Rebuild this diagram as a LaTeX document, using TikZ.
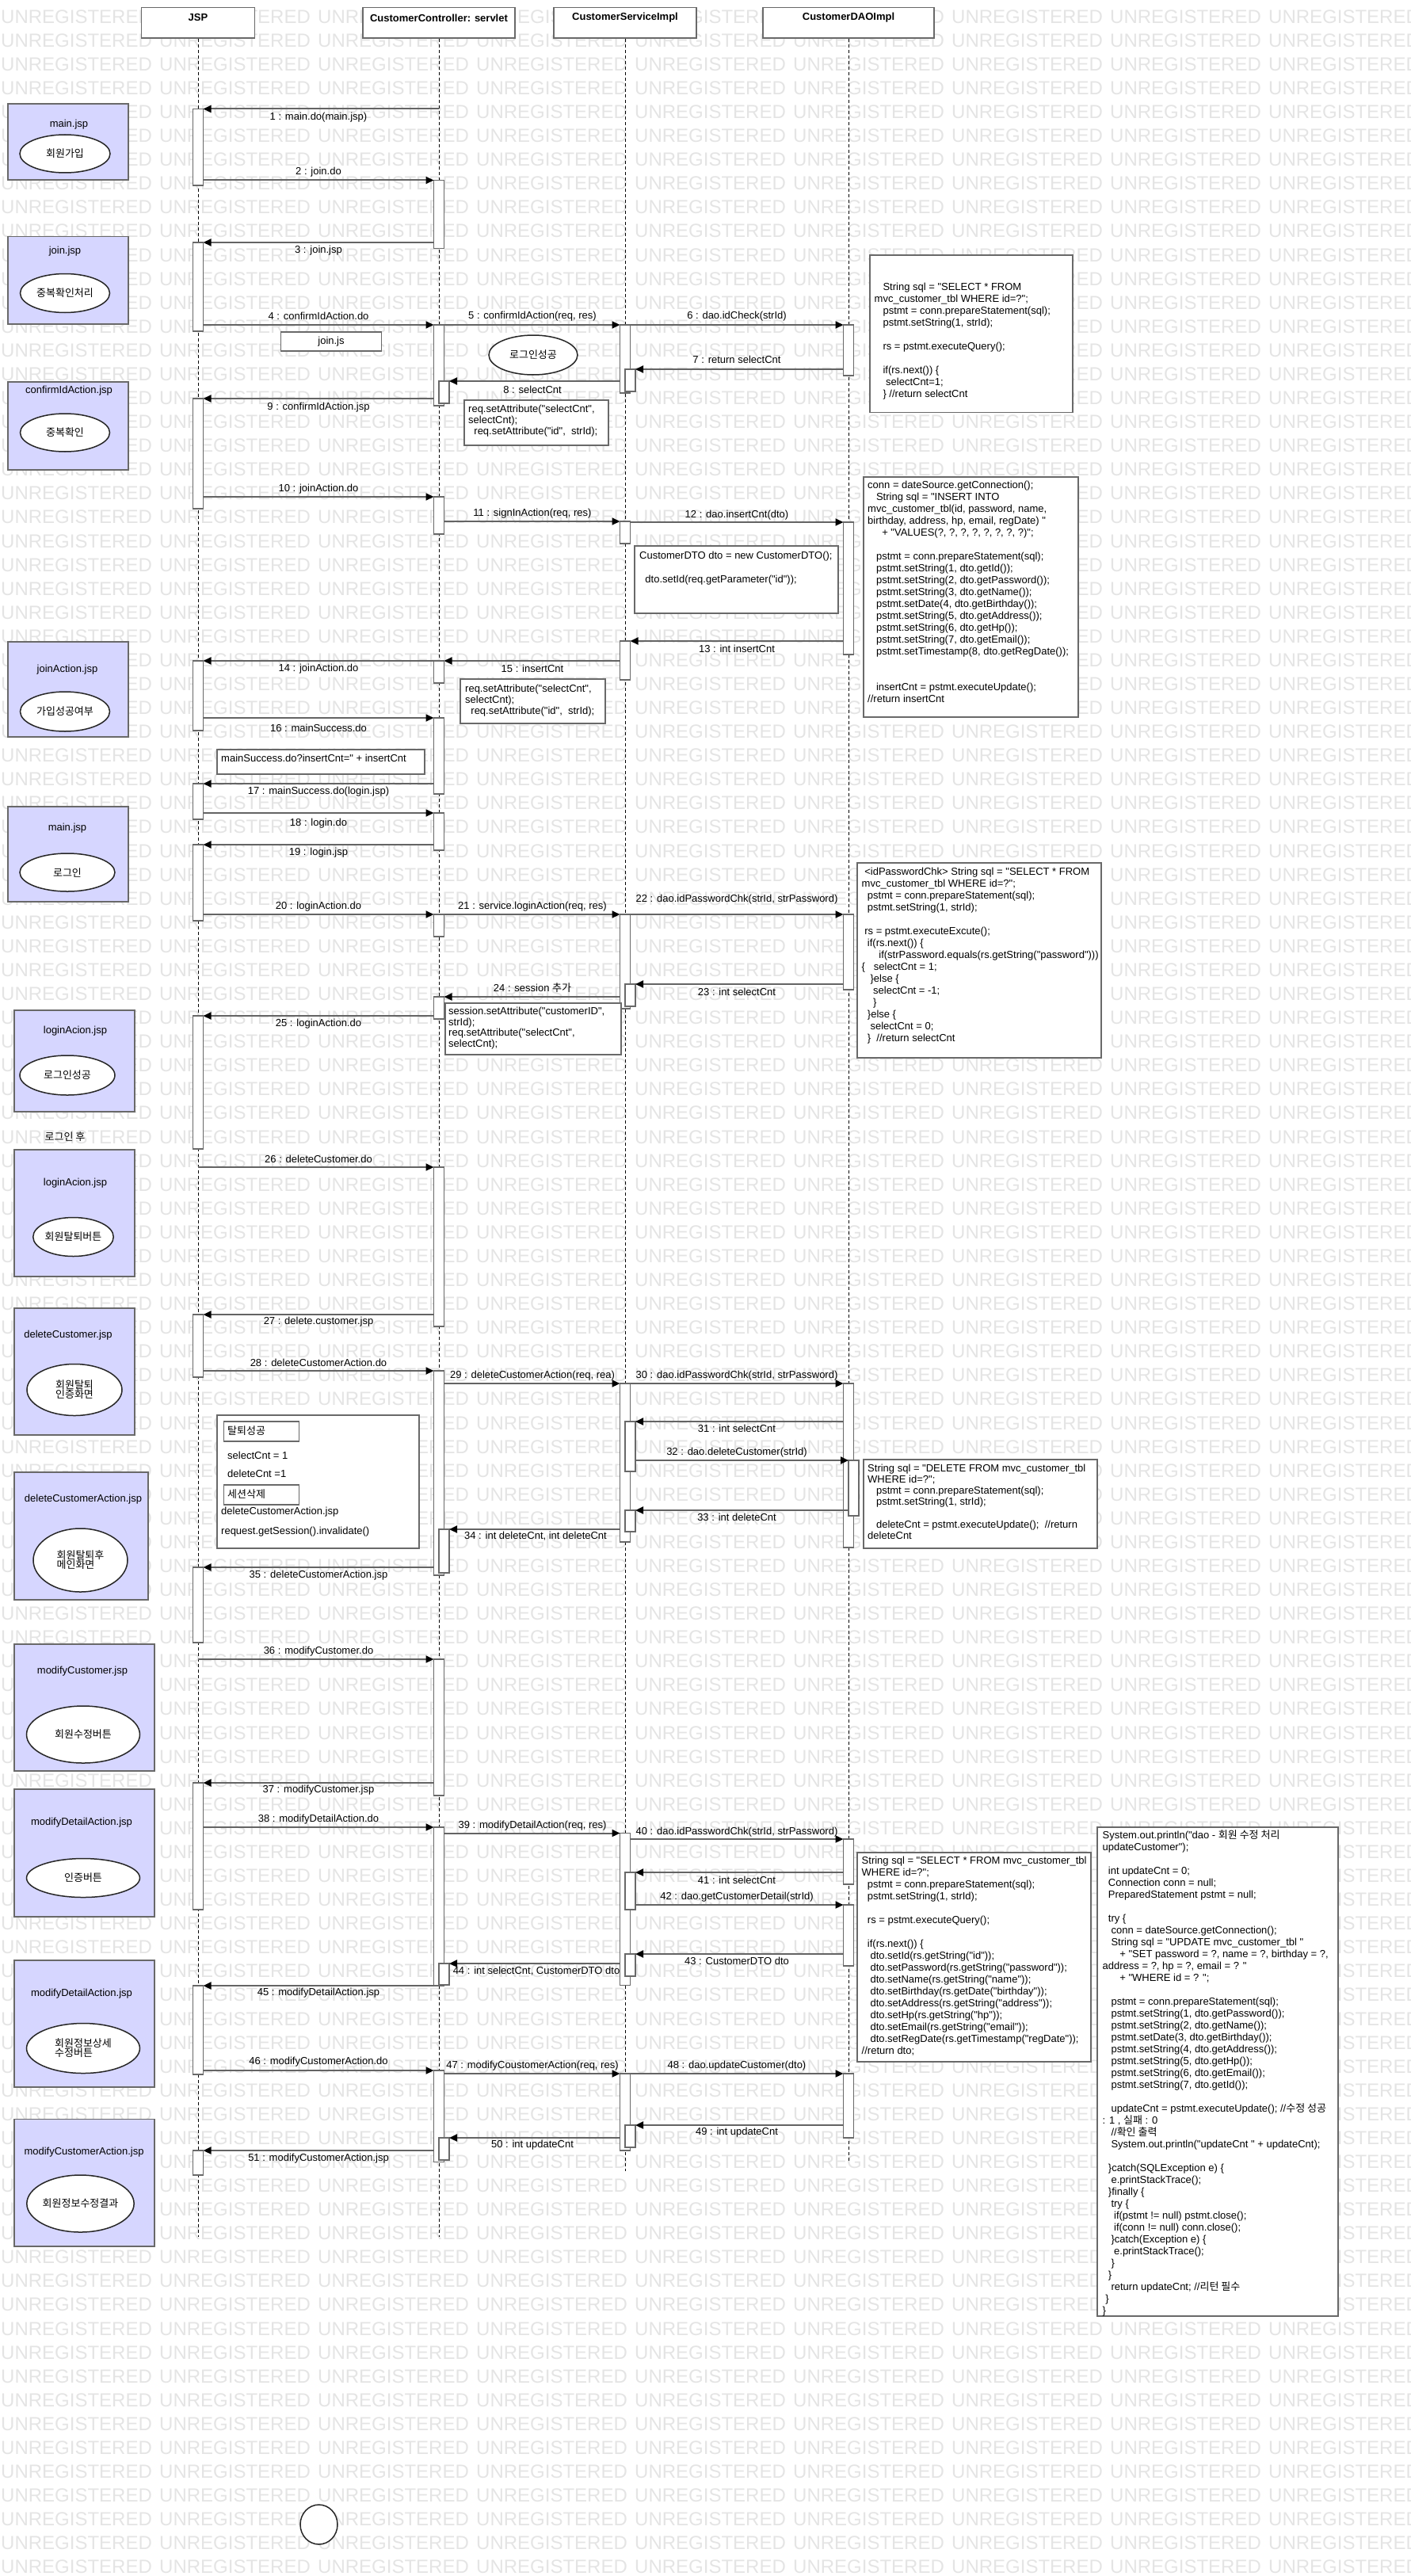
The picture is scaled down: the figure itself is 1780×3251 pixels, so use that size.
\documentclass[tikz,border=0pt]{standalone}
\usepackage{fontspec}
\setmainfont{Liberation Sans}[Ligatures=TeXOff]
\newfontfamily\kr{Noto Sans CJK KR}
\usetikzlibrary{arrows.meta,shapes.geometric}

\definecolor{wmgray}{RGB}{228,228,228}
\definecolor{edge}{RGB}{105,105,105}
\definecolor{jspfill}{RGB}{214,214,255}
\definecolor{msgline}{RGB}{100,100,100}

% n spaces of the current font
\newcommand\ind[1]{\hspace*{#1\fontdimen2\font}}
% activation bars: main bar centred on the lifeline, nested bar shifted right
\newcommand\actbar[3]{\draw[actbox] (#1-6.5,#2) rectangle (#1+6.5,#3);}
\newcommand\nestbar[3]{\draw[actbox] (#1,#2) rectangle (#1+13,#3);}
% message: number, y, x start, x tip, label x, label y, label
\newcommand\msg[7]{\draw[msgarrow] (#3,#2) -- (#4,#2);
  \node[msglabel] (m#1) at (#5,#6) {#7};}

\tikzset{
  every node/.style={inner sep=0pt, font=\fontsize{13}{15}\selectfont},
  wm/.style={anchor=west, text=wmgray, font=\fontsize{24}{24}\selectfont},
  headbox/.style={draw=edge, line width=1.8, fill=white},
  lifeline/.style={black, line width=0.9, dash pattern=on 4pt off 3pt},
  actbox/.style={draw=edge, fill=white, line width=1.8},
  msgarrow/.style={draw=msgline, line width=2, -{Triangle[length=10pt,width=9pt,color=black]}},
  msglabel/.style={anchor=center},
  jspbox/.style={draw=edge, fill=jspfill, line width=1.8},
  bubble/.style={ellipse, draw=black!85, fill=white, line width=1.5, align=left,
    font=\kr\fontsize{13}{12}\selectfont},
  notebox/.style={draw=edge, fill=white, line width=1.8},
  notetext/.style={anchor=north west, align=left},
}

\begin{document}
\begin{tikzpicture}[x=1pt,y=-1pt]
\useasboundingbox (0,0) rectangle (1780,3251);

% background watermark
\foreach \r in {0,...,107}{
  \foreach \c in {0,...,8}{
    \node[wm] (w-\r-\c) at (\c*200+1,21+\r*30.08) {UNREGISTERED};
  }
}

% lifeline heads
\node[headbox, minimum width=143, minimum height=38.6] (hJ) at (250,28.9) {};
\node[headbox, minimum width=191.4, minimum height=38.6] (hC) at (554,28.9) {};
\node[headbox, minimum width=180.5, minimum height=38.6] (hS) at (789,28.9) {};
\node[headbox, minimum width=216.5, minimum height=38.6] (hD) at (1071,28.9) {};
\node[font=\bfseries\fontsize{13}{15}\selectfont] (tJ) at (250,22.5) {JSP};
\node[font=\bfseries\fontsize{13}{15}\selectfont] (tC) at (554,22.5) {CustomerController: servlet};
\node[font=\bfseries\fontsize{13}{15}\selectfont] (tS) at (789,22.5) {CustomerServiceImpl};
\node[font=\bfseries\fontsize{13}{15}\selectfont] (tD) at (1071,22.5) {CustomerDAOImpl};

% lifelines
\coordinate (eJ) at (250,2823);
\coordinate (eC) at (554,2823);
\coordinate (eS) at (789,2740);
\coordinate (eD) at (1071,2728);
\draw[lifeline] (hJ.south) -- (eJ);
\draw[lifeline] (hC.south) -- (eC);
\draw[lifeline] (hS.south) -- (eS);
\draw[lifeline] (hD.south) -- (eD);

% page boxes on the left
\node[jspbox, anchor=north west, minimum width=152, minimum height=96] (b1) at (9,130) {};
\node[jspbox, anchor=north west, minimum width=152, minimum height=110.5] (b2) at (9,297.5) {};
\node[jspbox, anchor=north west, minimum width=152, minimum height=111] (b3) at (9,481) {};
\node[jspbox, anchor=north west, minimum width=152, minimum height=120] (b4) at (9,809) {};
\node[jspbox, anchor=north west, minimum width=152, minimum height=120] (b5) at (9,1017) {};
\node[jspbox, anchor=north west, minimum width=152, minimum height=128] (b6) at (17,1274) {};
\node[jspbox, anchor=north west, minimum width=152, minimum height=160] (b7) at (17,1450) {};
\node[jspbox, anchor=north west, minimum width=152, minimum height=160] (b8) at (17,1650) {};
\node[jspbox, anchor=north west, minimum width=169, minimum height=161] (b9) at (17,1857) {};
\node[jspbox, anchor=north west, minimum width=177, minimum height=160] (b10) at (17,2074) {};
\node[jspbox, anchor=north west, minimum width=177, minimum height=161] (b11) at (17,2257) {};
\node[jspbox, anchor=north west, minimum width=177, minimum height=160] (b12) at (17,2473) {};
\node[jspbox, anchor=north west, minimum width=177, minimum height=160.5] (b13) at (17,2673.5) {};

\node (p1) at (87,157) {main.jsp};
\node (p2) at (82,317) {join.jsp};
\node (p3) at (87,493) {confirmIdAction.jsp};
\node (p4) at (85,845) {joinAction.jsp};
\node (p5) at (85,1045) {main.jsp};
\node (p6) at (95,1301) {loginAcion.jsp};
\node (p7) at (95,1493) {loginAcion.jsp};
\node (p8) at (86,1685) {deleteCustomer.jsp};
\node (p9) at (105,1892) {deleteCustomerAction.jsp};
\node (p10) at (104,2109) {modifyCustomer.jsp};
\node (p11) at (103,2300) {modifyDetailAction.jsp};
\node (p12) at (103,2516) {modifyDetailAction.jsp};
\node (p13) at (106,2716) {modifyCustomerAction.jsp};

\node[bubble, minimum width=114, minimum height=48] (e1) at (82,194) {회원가입};
\node[bubble, minimum width=113, minimum height=49] (e2) at (82,370) {중복확인처리};
\node[bubble, minimum width=113, minimum height=48] (e3) at (82,546) {중복확인};
\node[bubble, minimum width=113, minimum height=50] (e4) at (82,898) {가입성공여부};
\node[bubble, minimum width=120, minimum height=48] (e5) at (85,1101) {로그인};
\node[bubble, minimum width=120, minimum height=50] (e6) at (85,1357) {로그인성공};
\node[bubble, minimum width=101, minimum height=49] (e7) at (92.5,1561) {회원탈퇴버튼};
\node[bubble, minimum width=120, minimum height=65] (e8) at (94,1754) {회원탈퇴\\인증화면};
\node[bubble, minimum width=119, minimum height=80] (e9) at (101.5,1969) {회원탈퇴후\\메인화면};
\node[bubble, minimum width=143, minimum height=72] (e10) at (105,2189) {회원수정버튼};
\node[bubble, minimum width=143, minimum height=49] (e11) at (105,2370) {인증버튼};
\node[bubble, minimum width=143, minimum height=63] (e12) at (105,2585) {회원정보상세\\수정버튼};
\node[bubble, minimum width=135, minimum height=72] (e13) at (101.5,2781) {회원정보수정결과};

\node[font=\kr\fontsize{13}{15}\selectfont] (after) at (82,1435) {로그인 후};

% activation bars
\actbar{250}{137.5}{234}
\actbar{250}{306}{418}
\actbar{250}{503}{642}
\actbar{250}{834}{922}
\actbar{250}{989}{1034}
\actbar{250}{1066}{1162}
\actbar{250}{1282}{1450}
\actbar{250}{1659}{1738}
\actbar{250}{1978}{2073}
\actbar{250}{2250}{2410}
\actbar{250}{2506}{2618}
\actbar{250}{2714}{2745}

\actbar{554}{227.5}{313.5}
\actbar{554}{410}{512} \nestbar{554}{481}{509}
\actbar{554}{627}{674}
\actbar{554}{834}{862}
\actbar{554}{906}{1002}
\actbar{554}{1026}{1073}
\actbar{554}{1154}{1182}
\actbar{554}{1258}{1286}
\actbar{554}{1473}{1674}
\actbar{554}{1730}{1988} \nestbar{554}{1930}{1985}
\actbar{554}{2094}{2266}
\actbar{554}{2306}{2506} \nestbar{554}{2478}{2505}
\actbar{554}{2613}{2728.5} \nestbar{554}{2698}{2726}

\actbar{789}{410}{496} \nestbar{789}{466}{494}
\actbar{789}{658}{686}
\actbar{789}{809}{858}
\actbar{789}{1154}{1273} \nestbar{789}{1242}{1270}
\actbar{789}{1746}{1946} \nestbar{789}{1794}{1857} \nestbar{789}{1906}{1933}
\actbar{789}{2313.5}{2505.5} \nestbar{789}{2363}{2410} \nestbar{789}{2466}{2494}
\actbar{789}{2617}{2714} \nestbar{789}{2682}{2710}

\actbar{1071}{410}{474}
\actbar{1071}{659}{826}
\actbar{1071}{1154}{1249}
\actbar{1071}{1746}{1953} \nestbar{1071}{1843}{1913}
\actbar{1071}{2321}{2378}
\actbar{1071}{2404}{2481}
\actbar{1071}{2617}{2698}

% messages
\msg{1}{137.5}{554}{256.5}{402}{148}{1 : main.do(main.jsp)}
\msg{2}{227.5}{256.5}{547.5}{402}{217}{2 : join.do}
\msg{3}{306}{547.5}{256.5}{402}{316}{3 : join.jsp}
\msg{4}{410}{256.5}{547.5}{402}{399}{4 : confirmIdAction.do}
\msg{5}{410}{560.5}{782.5}{672}{399}{5 : confirmIdAction(req, res)}
\msg{6}{410}{795.5}{1064.5}{930}{399}{6 : dao.idCheck(strId)}
\msg{7}{466}{1064.5}{802}{930}{454}{7 : return selectCnt}
\msg{8}{481}{782.5}{567}{672}{492}{8 : selectCnt}
\msg{9}{503}{547.5}{256.5}{402}{514}{9 : confirmIdAction.jsp}
\msg{10}{627}{256.5}{547.5}{402}{617}{10 : joinAction.do}
\msg{11}{658}{560.5}{782.5}{672}{648}{11 : signInAction(req, res)}
\msg{12}{659}{795.5}{1064.5}{930}{650}{12 : dao.insertCnt(dto)}
\msg{13}{809}{1064.5}{795.5}{930}{819}{13 : int insertCnt}
\msg{14}{834}{547.5}{256.5}{402}{844}{14 : joinAction.do}
\msg{15}{834}{782.5}{560.5}{672}{844}{15 : insertCnt}
\msg{16}{906}{256.5}{547.5}{402}{919}{16 : mainSuccess.do}
\msg{17}{989}{547.5}{256.5}{402}{999}{17 : mainSuccess.do(login.jsp)}
\msg{18}{1026}{256.5}{547.5}{402}{1039}{18 : login.do}
\msg{19}{1066}{547.5}{256.5}{402}{1076}{19 : login.jsp}
\msg{20}{1154}{256.5}{547.5}{402}{1144}{20 : loginAction.do}
\msg{21}{1154}{560.5}{782.5}{672}{1144}{21 : service.loginAction(req, res)}
\msg{22}{1154}{795.5}{1064.5}{930}{1135}{22 : dao.idPasswordChk(strId, strPassword)}
\msg{23}{1242}{1064.5}{802}{930}{1252}{23 : int selectCnt}
\msg{24}{1258}{782.5}{560.5}{672}{1247}{24 : session {\kr 추가}}
\msg{25}{1282}{547.5}{256.5}{402}{1292}{25 : loginAction.do}
\msg{26}{1473}{250}{547.5}{402}{1462.5}{26 : deleteCustomer.do}
\msg{27}{1659}{547.5}{256.5}{402}{1668.5}{27 : delete.customer.jsp}
\msg{28}{1730}{256.5}{547.5}{402}{1720}{28 : deleteCustomerAction.do}
\msg{29}{1746}{560.5}{782.5}{672}{1736}{29 : deleteCustomerAction(req, rea)}
\msg{30}{1746}{795.5}{1064.5}{930}{1736}{30 : dao.idPasswordChk(strId, strPassword)}
\msg{31}{1794}{1064.5}{802}{930}{1803}{31 : int selectCnt}
\msg{32}{1843}{802}{1071}{930}{1833}{32 : dao.deleteCustomer(strId)}
\msg{33}{1906}{1071}{802}{930}{1915}{33 : int deleteCnt}
\msg{34}{1930}{782.5}{567}{676}{1939}{34 : int deleteCnt, int deleteCnt}
\msg{35}{1978}{547.5}{256.5}{402}{1988}{35 : deleteCustomerAction.jsp}
\msg{36}{2094}{250}{547.5}{402}{2084}{36 : modifyCustomer.do}
\msg{37}{2250}{547.5}{256.5}{402}{2259}{37 : modifyCustomer.jsp}
\msg{38}{2306}{256.5}{547.5}{402}{2296}{38 : modifyDetailAction.do}
\msg{39}{2313.5}{560.5}{782.5}{672}{2304}{39 : modifyDetailAction(req, res)}
\msg{40}{2321}{795.5}{1064.5}{930}{2312}{40 : dao.idPasswordChk(strId, strPassword)}
\msg{41}{2363}{1064.5}{802}{930}{2373}{41 : int selectCnt}
\msg{42}{2404}{802}{1064.5}{930}{2394}{42 : dao.getCustomerDetail(strId)}
\msg{43}{2466}{1064.5}{802}{930}{2475}{43 : CustomerDTO dto}
\msg{44}{2478}{782.5}{567}{677}{2488}{44 : int selectCnt, CustomerDTO dto}
\msg{45}{2506}{547.5}{256.5}{402}{2515}{45 : modifyDetailAction.jsp}
\msg{46}{2613}{256.5}{547.5}{402}{2602}{46 : modifyCustomerAction.do}
\msg{47}{2617}{560.5}{782.5}{672}{2607.5}{47 : modifyCoustomerAction(req, res)}
\msg{48}{2617}{795.5}{1064.5}{930}{2607.5}{48 : dao.updateCustomer(dto)}
\msg{49}{2682}{1064.5}{802}{930}{2691}{49 : int updateCnt}
\msg{50}{2698}{782.5}{567}{672}{2707}{50 : int updateCnt}
\msg{51}{2714}{547.5}{256.5}{402}{2724}{51 : modifyCustomerAction.jsp}

% small boxes and notes near the lifelines
\node[notebox, anchor=north west, minimum width=127, minimum height=24] (jsbox) at (353.6,418) {join.js};
\node[bubble, minimum width=112, minimum height=50] (e0) at (673,448) {로그인성공};

\draw[notebox] (585.6,505) rectangle (767.6,562);
\node[notetext, font=\fontsize{13}{14}\selectfont] (n7) at (591,510.5) {\strut req.setAttribute("selectCnt",\\selectCnt);\\\ind{2}req.setAttribute("id",\ind{2}strId);};

\draw[notebox] (581,857) rectangle (764,913);
\node[notetext, font=\fontsize{13}{14}\selectfont] (n8) at (587,863) {\strut req.setAttribute("selectCnt",\\selectCnt);\\\ind{2}req.setAttribute("id",\ind{2}strId);};

\draw[notebox] (561.7,1265.7) rectangle (784,1330.7);
\node[notetext, font=\fontsize{13}{13.7}\selectfont] (n9) at (566,1270.5) {\strut session.setAttribute("customerID",\\strId);\\req.setAttribute("selectCnt",\\selectCnt);};

\draw[notebox] (801,689) rectangle (1058,774);
\node[notetext] (n10) at (807,695) {\strut CustomerDTO dto = new CustomerDTO();\\[15pt]\ind{2}dto.setId(req.getParameter("id"));};

\draw[notebox] (274,945.7) rectangle (536,977.3);
\node[notetext] (n11) at (279,950.5) {\strut mainSuccess.do?insertCnt=" + insertCnt};

% note with the delete steps
\draw[notebox] (274,1785.7) rectangle (529,1954);
\node[notebox, anchor=north west, minimum width=95, minimum height=25] (k1) at (281.6,1793) {};
\node[anchor=west, font=\kr\fontsize{13}{15}\selectfont] (k1t) at (287,1805.5) {탈퇴성공};
\node[anchor=west] (k2) at (287,1836.7) {selectCnt = 1};
\node[anchor=west] (k3) at (287,1860) {deleteCnt =1};
\node[notebox, anchor=north west, minimum width=95, minimum height=25] (k4) at (281.6,1873) {};
\node[anchor=west, font=\kr\fontsize{13}{15}\selectfont] (k4t) at (287,1885.5) {세션삭제};
\node[anchor=west] (k5) at (279,1908.3) {deleteCustomerAction.jsp};
\node[anchor=west] (k6) at (279,1932.7) {request.getSession().invalidate()};

% DAO code notes
\draw[notebox] (1097.6,321.7) rectangle (1354,520.5);
\node[notetext] (n1) at (1103.5,356) {\strut\ind{3}String sql = "SELECT * FROM\\
mvc\_customer\_tbl WHERE id=?";\\
\ind{3}pstmt = conn.prepareStatement(sql);\\
\ind{3}pstmt.setString(1, strId);\\[15pt]
\ind{3}rs = pstmt.executeQuery();\\[15pt]
\ind{3}if(rs.next()) \{\\
\ind{4}selectCnt=1;\\
\ind{3}\} //return selectCnt};

\draw[notebox] (1090,602) rectangle (1361,905);
\node[notetext] (n2) at (1095,606) {\strut conn = dateSource.getConnection();\\
\ind{3}String sql = "INSERT INTO\\
mvc\_customer\_tbl(id, password, name,\\
birthday, address, hp, email, regDate) "\\
\ind{5}+ "VALUES(?, ?, ?, ?, ?, ?, ?, ?)";\\[15pt]
\ind{3}pstmt = conn.prepareStatement(sql);\\
\ind{3}pstmt.setString(1, dto.getId());\\
\ind{3}pstmt.setString(2, dto.getPassword());\\
\ind{3}pstmt.setString(3, dto.getName());\\
\ind{3}pstmt.setDate(4, dto.getBirthday());\\
\ind{3}pstmt.setString(5, dto.getAddress());\\
\ind{3}pstmt.setString(6, dto.getHp());\\
\ind{3}pstmt.setString(7, dto.getEmail());\\
\ind{3}pstmt.setTimestamp(8, dto.getRegDate());\\[30pt]
\ind{3}insertCnt = pstmt.executeUpdate();\\
//return insertCnt};

\draw[notebox] (1082,1089) rectangle (1390,1335);
\node[notetext] (n3) at (1087.5,1094) {\strut\ind{1}<idPasswordChk> String sql = "SELECT * FROM\\
mvc\_customer\_tbl WHERE id=?";\\
\ind{2}pstmt = conn.prepareStatement(sql);\\
\ind{2}pstmt.setString(1, strId);\\[15pt]
\ind{1}rs = pstmt.executeExcute();\\
\ind{2}if(rs.next()) \{\\
\ind{6}if(strPassword.equals(rs.getString("password")))\\
\{\ind{3}selectCnt = 1;\\
\ind{3}\}else \{\\
\ind{4}selectCnt = -1;\\
\ind{4}\}\\
\ind{2}\}else \{\\
\ind{3}selectCnt = 0;\\
\ind{2}\}\ind{2}//return selectCnt};

\draw[notebox] (1090,1841.7) rectangle (1385,1954);
\node[notetext, font=\fontsize{13}{14.2}\selectfont] (n4) at (1095,1847) {\strut String sql = "DELETE FROM mvc\_customer\_tbl\\
WHERE id=?";\\
\ind{3}pstmt = conn.prepareStatement(sql);\\
\ind{3}pstmt.setString(1, strId);\\[14.2pt]
\ind{3}deleteCnt = pstmt.executeUpdate();\ind{2}//return\\
deleteCnt};

\draw[notebox] (1081.7,2337.7) rectangle (1377,2601.7);
\node[notetext] (n5) at (1087.5,2342) {\strut String sql = "SELECT * FROM mvc\_customer\_tbl\\
WHERE id=?";\\
\ind{2}pstmt = conn.prepareStatement(sql);\\
\ind{2}pstmt.setString(1, strId);\\[15pt]
\ind{2}rs = pstmt.executeQuery();\\[15pt]
\ind{2}if(rs.next()) \{\\
\ind{3}dto.setId(rs.getString("id"));\\
\ind{3}dto.setPassword(rs.getString("password"));\\
\ind{3}dto.setName(rs.getString("name"));\\
\ind{3}dto.setBirthday(rs.getDate("birthday"));\\
\ind{3}dto.setAddress(rs.getString("address"));\\
\ind{3}dto.setHp(rs.getString("hp"));\\
\ind{3}dto.setEmail(rs.getString("email"));\\
\ind{3}dto.setRegDate(rs.getTimestamp("regDate"));\\
//return dto;};

\draw[notebox] (1385,2306) rectangle (1689,2923);
\node[notetext] (n6) at (1391.5,2310) {\strut System.out.println("dao - {\kr 회원 수정 처리}\\
updateCustomer");\\[15pt]
\ind{2}int updateCnt = 0;\\
\ind{2}Connection conn = null;\\
\ind{2}PreparedStatement pstmt = null;\\[15pt]
\ind{2}try \{\\
\ind{3}conn = dateSource.getConnection();\\
\ind{3}String sql = "UPDATE mvc\_customer\_tbl "\\
\ind{6}+ "SET password = ?, name = ?, birthday = ?,\\
address = ?, hp = ?, email = ? "\\
\ind{6}+ "WHERE id = ? ";\\[15pt]
\ind{3}pstmt = conn.prepareStatement(sql);\\
\ind{3}pstmt.setString(1, dto.getPassword());\\
\ind{3}pstmt.setString(2, dto.getName());\\
\ind{3}pstmt.setDate(3, dto.getBirthday());\\
\ind{3}pstmt.setString(4, dto.getAddress());\\
\ind{3}pstmt.setString(5, dto.getHp());\\
\ind{3}pstmt.setString(6, dto.getEmail());\\
\ind{3}pstmt.setString(7, dto.getId());\\[15pt]
\ind{3}updateCnt = pstmt.executeUpdate(); //{\kr 수정 성공}\\
: 1 , {\kr 실패} : 0\\
\ind{3}//{\kr 확인 출력}\\
\ind{3}System.out.println("updateCnt " + updateCnt);\\[15pt]
\ind{2}\}catch(SQLException e) \{\\
\ind{3}e.printStackTrace();\\
\ind{2}\}finally \{\\
\ind{3}try \{\\
\ind{4}if(pstmt != null) pstmt.close();\\
\ind{4}if(conn != null) conn.close();\\
\ind{3}\}catch(Exception e) \{\\
\ind{4}e.printStackTrace();\\
\ind{3}\}\\
\ind{2}\}\\
\ind{3}return updateCnt; //{\kr 리턴 필수}\\
\ind{1}\}\\
\}};

% final state marker
\node[ellipse, draw=black!85, fill=white, line width=1.5, minimum width=47, minimum height=50] (fin) at (402.5,3186) {};

\end{tikzpicture}
\end{document}
